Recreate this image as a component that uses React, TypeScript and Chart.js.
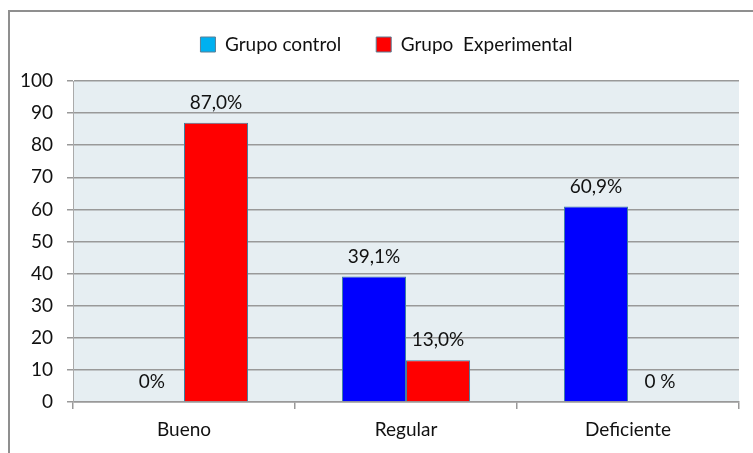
import React, { useEffect, useRef } from "react";
import { Chart, registerables } from "chart.js";

Chart.register(...registerables);

const categories = ["Bueno", "Regular", "Deficiente"];
const controlValues = [0, 39.1, 60.9];
const experimentalValues = [87.0, 13.0, 0];
const controlLabels = ["0%", "39,1%", "60,9%"];
const experimentalLabels = ["87,0%", "13,0%", "0 %"];
const seriesNames = ["Grupo control", "Grupo  Experimental"];
const legendColors = ["#00B0F0", "#FF0000"];
const yTicks = { min: 0, max: 100, step: 10 };

const FONT = "Lato";
const FONT_SIZE = 19;

const plotBackground = {
  id: "plotBackground",
  beforeDraw(chart: any) {
    const { ctx, chartArea } = chart;
    ctx.save();
    ctx.fillStyle = "#E6EEF2";
    ctx.fillRect(chartArea.left, chartArea.top, chartArea.right - chartArea.left, chartArea.bottom - chartArea.top);
    ctx.restore();
  },
};

// Extra space under the legend row, and the row centred over the plot rather than the canvas
const legendPlacement = {
  id: "legendPlacement",
  beforeInit(chart: any) {
    const legend = chart.legend;
    if (!legend) return;
    const fit = legend.fit;
    legend.fit = function () {
      fit.call(this);
      this.height += 17;
    };
  },
  afterLayout(chart: any) {
    const legend = chart.legend;
    if (!legend) return;
    legend.left += 17;
    legend.right += 17;
  },
};

const valueLabels = {
  id: "valueLabels",
  afterDatasetsDraw(chart: any) {
    const { ctx } = chart;
    const texts = [controlLabels, experimentalLabels];
    ctx.save();
    ctx.font = `${FONT_SIZE}px ${FONT}`;
    ctx.fillStyle = "#111";
    ctx.textAlign = "center";
    ctx.textBaseline = "middle";
    chart.data.datasets.forEach((_ds: any, di: number) => {
      const meta = chart.getDatasetMeta(di);
      meta.data.forEach((bar: any, i: number) => {
        ctx.fillText(texts[di][i], bar.x, bar.y - 20);
      });
    });
    ctx.restore();
  },
};

export default function App() {
  const ref = useRef<HTMLCanvasElement>(null);

  useEffect(() => {
    if (!ref.current) return;
    const chart = new Chart(ref.current, {
      type: "bar",
      data: {
        labels: categories,
        datasets: [
          {
            label: seriesNames[0],
            data: controlValues,
            backgroundColor: "#0000FF",
            borderColor: "#3F7F9F",
            borderWidth: 1,
          },
          {
            label: seriesNames[1],
            data: experimentalValues,
            backgroundColor: "#FF0000",
            borderColor: "#3F7F9F",
            borderWidth: 1,
          },
        ],
      },
      options: {
        responsive: false,
        animation: false,
        layout: { padding: { top: 0, right: 14, left: 0, bottom: 0 } },
        datasets: {
          bar: { categoryPercentage: 0.577, barPercentage: 1 },
        },
        plugins: {
          tooltip: { enabled: false },
          legend: {
            position: "top",
            labels: {
              font: { family: FONT, size: FONT_SIZE },
              color: "#111",
              boxWidth: 15,
              boxHeight: 15,
              padding: 35,
              generateLabels: () =>
                seriesNames.map((name, i) => ({
                  text: name,
                  fillStyle: legendColors[i],
                  strokeStyle: "#5B7F95",
                  lineWidth: 1,
                  hidden: false,
                  datasetIndex: i,
                  fontColor: "#111",
                })),
            },
          },
        },
        scales: {
          x: {
            grid: {
              offset: true,
              drawOnChartArea: false,
              drawTicks: true,
              tickLength: 7,
              color: "#999",
              lineWidth: 1.5,
            },
            border: { color: "#999", width: 1.5 },
            ticks: { font: { family: FONT, size: FONT_SIZE }, color: "#111", padding: 9 },
            afterFit(scale: any) {
              scale.height = 51;
            },
          },
          y: {
            min: yTicks.min,
            max: yTicks.max,
            grid: { color: "#999", lineWidth: 1.5, tickLength: 6 },
            border: { color: "#aaa", width: 1 },
            ticks: {
              stepSize: yTicks.step,
              font: { family: FONT, size: FONT_SIZE },
              color: "#111",
              padding: 14,
            },
            afterFit(scale: any) {
              scale.width = 73;
            },
          },
        },
      },
      plugins: [legendPlacement, plotBackground, valueLabels],
    });
    return () => chart.destroy();
  }, []);

  return (
    <div style={{ position: "absolute", left: 0, top: 0, width: 753, height: 453, overflow: "hidden", background: "#fff" }}>
      <div
        style={{
          position: "absolute",
          left: 8,
          top: 10,
          width: 800,
          height: 500,
          borderTop: "2px solid #8f8f8f",
          borderLeft: "2px solid #8f8f8f",
        }}
      />
      <canvas ref={ref} width={753} height={453} style={{ position: "absolute", left: 0, top: 0 }} />
    </div>
  );
}
